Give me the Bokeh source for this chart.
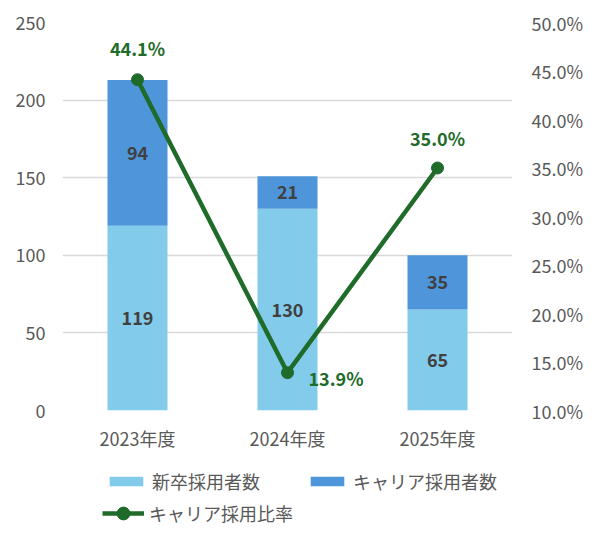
from bokeh.plotting import figure
from bokeh.layouts import column
from bokeh.models import (ColumnDataSource, Range1d, LinearAxis, FactorRange, FixedTicker,
                          NumeralTickFormatter, Legend, LegendItem)
from bokeh.core.properties import value
from bokeh.embed import file_html
from bokeh.resources import INLINE

years = ["2023年度", "2024年度", "2025年度"]
new_grads = [119, 130, 65]
career = [94, 21, 35]
career_ratio = [0.441, 0.139, 0.350]
ratio_labels = ["44.1%", "13.9%", "35.0%"]
left_ticks = [0, 50, 100, 150, 200, 250]
right_ticks = [0.10, 0.15, 0.20, 0.25, 0.30, 0.35, 0.40, 0.45, 0.50]
series_names = ["新卒採用者数", "キャリア採用者数", "キャリア採用比率"]

C_NEW = "#83CBEB"
C_CAREER = "#4E95D9"
C_LINE = "#1E6B2A"
FONT = "Noto Sans CJK JP"
AXIS_COL = "#595959"
FS = "18px"

src = ColumnDataSource(dict(
    year=years, new=new_grads, career=career,
    new_mid=[n / 2 for n in new_grads],
    car_mid=[n + c / 2 for n, c in zip(new_grads, career)],
    new_txt=[str(v) for v in new_grads],
    car_txt=[str(v) for v in career],
    ratio=career_ratio, ratio_txt=ratio_labels,
    xo=[0, 21, 0], yo=[-32, 5, -30],
    align=["center", "left", "center"],
))

p = figure(x_range=FactorRange(*years), y_range=Range1d(0, 250),
           width=594, frame_width=450, frame_height=388, output_backend="svg", toolbar_location=None,
           min_border_left=62, min_border_right=82, min_border_top=22, min_border_bottom=46)
p.outline_line_color = None
p.extra_y_ranges = {"pct": Range1d(0.1, 0.5)}

bars = p.vbar_stack(["new", "career"], x="year", width=0.4, source=src,
                    color=[C_NEW, C_CAREER], line_color=None)
line = p.line(x="year", y="ratio", source=src, y_range_name="pct",
              line_color=C_LINE, line_width=4.5)
dots = p.scatter(x="year", y="ratio", source=src, y_range_name="pct",
                 size=12, fill_color=C_LINE, line_color=C_LINE)

# axes
p.yaxis.ticker = FixedTicker(ticks=left_ticks)
ax_r = LinearAxis(y_range_name="pct", ticker=FixedTicker(ticks=right_ticks),
                  formatter=NumeralTickFormatter(format="0.0%"))
p.add_layout(ax_r, "right")
for ax in [p.yaxis[0], ax_r, p.xaxis[0]]:
    ax.axis_line_color = None
    ax.major_tick_line_color = None
    ax.minor_tick_line_color = None
    ax.major_tick_out = 0
    ax.major_tick_in = 0
    ax.minor_tick_out = 0
    ax.minor_tick_in = 0
    ax.major_label_text_font = FONT
    ax.major_label_text_font_size = FS
    ax.major_label_text_color = AXIS_COL
p.yaxis[0].major_label_standoff = 17
ax_r.major_label_standoff = 19
p.xaxis[0].major_label_standoff = 14

p.xgrid.grid_line_color = None
p.ygrid.grid_line_color = "#D9D9D9"
p.ygrid.grid_line_width = 1.5

# data labels
for col, ycol in [("new_txt", "new_mid"), ("car_txt", "car_mid")]:
    p.text(x="year", y=ycol, text=col, source=src,
           text_align="center", text_baseline="middle",
           text_font=value(FONT), text_font_size=FS, text_font_style="bold",
           text_color="#404040")
p.text(x="year", y="ratio", text="ratio_txt", source=src, y_range_name="pct",
       x_offset="xo", y_offset="yo", text_align="align", text_baseline="middle",
       text_font=value(FONT), text_font_size=FS, text_font_style="bold",
       text_color=C_LINE)

# legend panel (separate figure below the chart; its ranges keep the proxy glyphs out of view)
lg = figure(width=594, height=75, x_range=FactorRange(*years), y_range=Range1d(1000, 1001),
            x_axis_type=None, y_axis_type=None, output_backend="svg", toolbar_location=None,
            min_border_left=62, min_border_right=82, min_border_top=0, min_border_bottom=0)
lg.outline_line_color = None
lg.grid.visible = False
r_new = lg.vbar(x="year", top="new", width=0.4, source=src, fill_color=C_NEW, line_color=None)
r_car = lg.vbar(x="year", top="career", width=0.4, source=src, fill_color=C_CAREER, line_color=None)
r_line = lg.line(x="year", y="ratio", source=src, line_color=C_LINE, line_width=4.5)
r_dot = lg.scatter(x="year", y="ratio", source=src, size=12, fill_color=C_LINE, line_color=C_LINE)

common = dict(orientation="horizontal",
              glyph_width=42, label_text_font=FONT, label_text_font_size=FS,
              label_text_color=AXIS_COL, spacing=46, label_standoff=5, padding=0, margin=0,
              label_height=20, border_line_color=None, background_fill_alpha=0)
legend1 = Legend(items=[
    LegendItem(label=series_names[0], renderers=[r_new]),
    LegendItem(label=series_names[1], renderers=[r_car]),
], location=(43, 37), glyph_height=12, **common)
legend2 = Legend(items=[
    LegendItem(label=series_names[2], renderers=[r_line, r_dot]),
], location=(40, 2), glyph_height=32, **common)
lg.add_layout(legend1, "center")
lg.add_layout(legend2, "center")

layout = column(p, lg, spacing=0)
open("out.html", "w").write(file_html(layout, INLINE))
